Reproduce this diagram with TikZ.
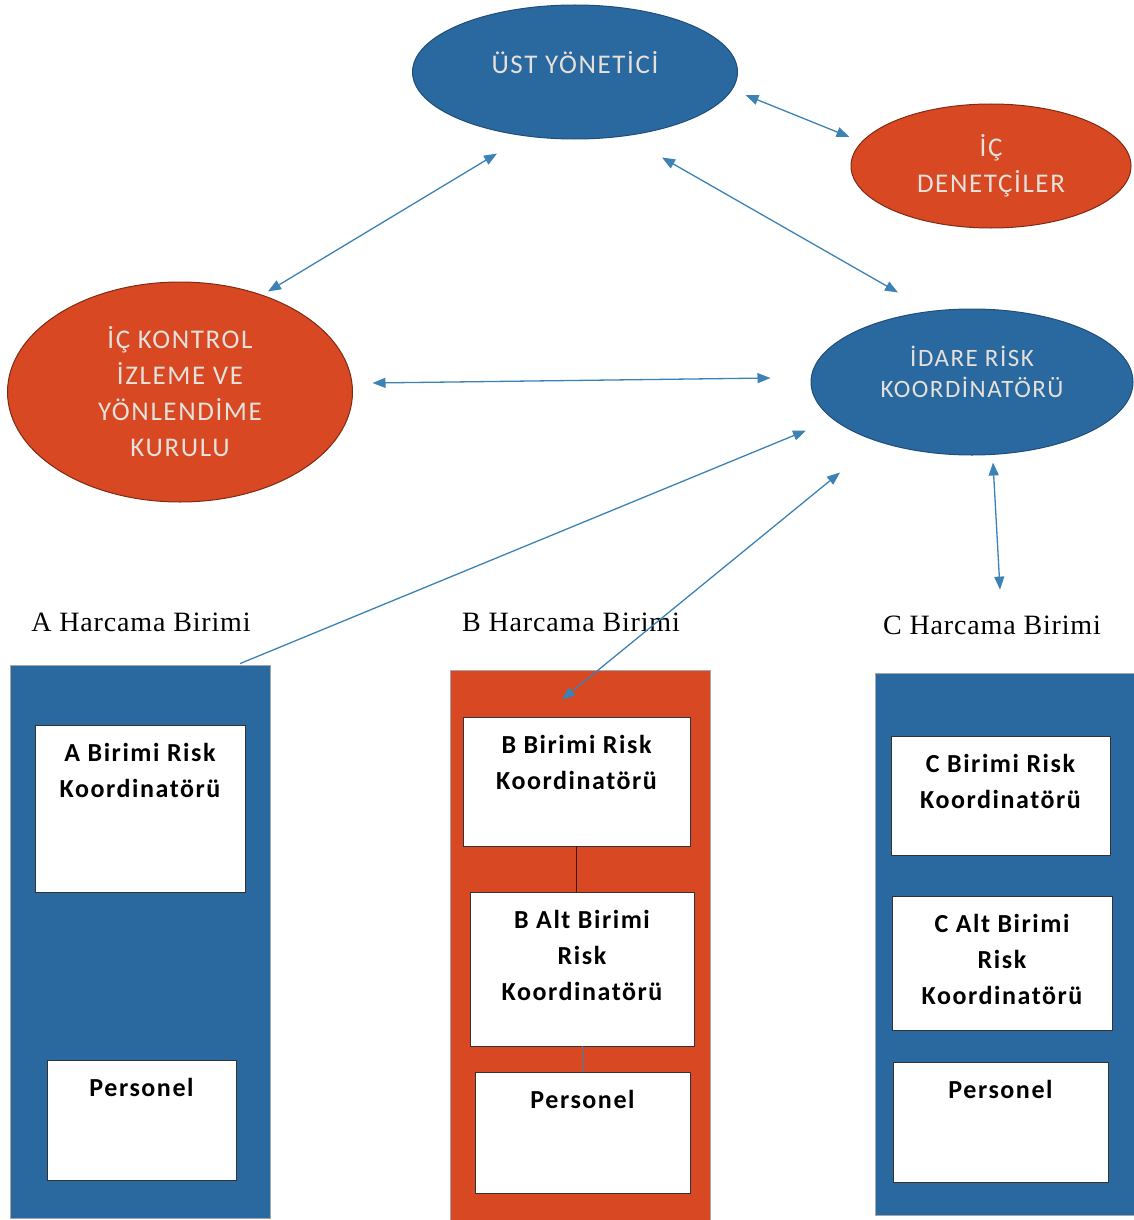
\documentclass[tikz,border=0pt]{standalone}
\usepackage{fontspec}
\setmainfont{Carlito}
\newfontfamily\ellfont{Carlito}[LetterSpace=6]
\newfontfamily\boxfont{Carlito}[LetterSpace=6]
\newfontfamily\serfont{Liberation Serif}[LetterSpace=3]
\usetikzlibrary{shapes.geometric,arrows.meta}
\definecolor{ublue}{HTML}{2A68A0}
\definecolor{uorange}{HTML}{D74823}
\definecolor{arrc}{HTML}{3C82B4}
\definecolor{etext}{HTML}{E4E0DA}
\begin{document}
\begin{tikzpicture}[x=1pt,y=-1pt,
  ell/.style={ellipse, inner sep=0pt, text=etext, align=center,
    font=\ellfont\fontsize{27}{36}\selectfont, line width=1pt},
  blueell/.style={ell, fill=ublue, draw=ublue!75!black},
  orell/.style={ell, fill=uorange, draw=uorange!60!black},
  contbox/.style={rectangle, inner sep=0pt, draw=black!35, line width=0.8pt},
  wbox/.style={rectangle, inner sep=0pt, fill=white, draw=black!80, line width=0.8pt},
  btext/.style={anchor=north, inner sep=0pt, align=center,
    font=\boxfont\bfseries\fontsize{26}{36}\selectfont},
  hlabel/.style={inner sep=0pt, font=\serfont\fontsize{28}{34}\selectfont},
  tipA/.tip={Triangle[length=13pt,width=10pt]},
  arr/.style={draw=arrc, line width=1.3pt, tipA-tipA},
  arrone/.style={draw=arrc, line width=1.3pt, -tipA},
]
\useasboundingbox (0,0) rectangle (1134,1220);

% ellipses
\node[blueell, minimum width=325pt, minimum height=134pt, text height=21pt, text depth=18pt] (ust) at (575,72) {ÜST YÖNETİCİ};
\node[orell, minimum width=280pt, minimum height=124pt] (den) at (991,166) {İÇ\\DENETÇİLER};
\node[orell, minimum width=345pt, minimum height=220pt] (ik) at (180,392) {İÇ KONTROL\\İZLEME VE\\YÖNLENDİME\\KURULU};
\node[blueell, minimum width=322pt, minimum height=146pt, font=\ellfont\fontsize{25}{31}\selectfont] (idare) at (972,382) {İDARE RİSK\\KOORDİNATÖRÜ\rule[-20pt]{0pt}{0pt}};

% unit labels
\node[hlabel] (alab) at (141,622) {A Harcama Birimi};
\node[hlabel] (blab) at (571,622) {B Harcama Birimi};
\node[hlabel] (clab) at (992,625) {C Harcama Birimi};

% containers
\node[contbox, fill=ublue, minimum width=260pt, minimum height=553pt] (abox) at (140,941.5) {};
\node[contbox, fill=uorange, minimum width=260pt, minimum height=550pt] (bbox) at (580,945) {};
\node[contbox, fill=ublue, minimum width=259pt, minimum height=542pt] (cbox) at (1004.5,944) {};

% inner boxes A
\node[wbox, minimum width=210pt, minimum height=167pt] (a1) at (140,808.5) {};
\node[wbox, minimum width=189pt, minimum height=120pt] (a2) at (141.5,1120) {};
% inner boxes B
\node[wbox, minimum width=227pt, minimum height=129pt] (b1) at (576.5,781.5) {};
\node[wbox, minimum width=224pt, minimum height=154pt] (b2) at (582,969) {};
\node[wbox, minimum width=215pt, minimum height=121pt] (b3) at (582.5,1132.5) {};
% inner boxes C
\node[wbox, minimum width=219pt, minimum height=119pt] (c1) at (1000.5,795.5) {};
\node[wbox, minimum width=220pt, minimum height=134pt] (c2) at (1002,963) {};
\node[wbox, minimum width=215pt, minimum height=120pt] (c3) at (1000.5,1122) {};

% box texts
\node[btext] (a1t) at ([shift={(0,18)}]a1.north) {A Birimi Risk\\Koordinatörü};
\node[btext] (a2t) at ([shift={(0,18)}]a2.north) {Personel};
\node[btext] (b1t) at ([shift={(0,18)}]b1.north) {B Birimi Risk\\Koordinatörü};
\node[btext] (b2t) at ([shift={(0,18)}]b2.north) {B Alt Birimi\\Risk\\Koordinatörü};
\node[btext] (b3t) at ([shift={(0,18)}]b3.north) {Personel};
\node[btext] (c1t) at ([shift={(0,18)}]c1.north) {C Birimi Risk\\Koordinatörü};
\node[btext] (c2t) at ([shift={(0,18)}]c2.north) {C Alt Birimi\\Risk\\Koordinatörü};
\node[btext] (c3t) at ([shift={(0,18)}]c3.north) {Personel};

% inner connectors in B
\draw[draw=black!70!uorange, line width=1pt] (b1.south) -- (b1.south |- b2.north);
\draw[draw=arrc, line width=1pt] (b2.south) -- (b2.south |- b3.north);

% arrows
\draw[arr] ([shift={(-78,14)}]ust.south) -- ([shift={(88,10)}]ik.north);
\draw[arr] ([shift={(7.5,23)}]ust.east) -- ([shift={(-1,-29)}]den.west);
\draw[arr] ([shift={(87,18)}]ust.south) -- ([shift={(-74,-16)}]idare.north);
\draw[arr] ([shift={(19.5,-9)}]ik.east) -- ([shift={(-40,-4)}]idare.west);
\draw[arrone] ([shift={(100,-1)}]abox.north) -- ([shift={(-166,-25)}]idare.south);
\draw[arr] ([shift={(-132,17)}]idare.south) -- ([shift={(-18,30)}]bbox.north);
\draw[arr] ([shift={(21,7)}]idare.south) -- ([shift={(-4.5,-83)}]cbox.north);
\end{tikzpicture}
\end{document}
